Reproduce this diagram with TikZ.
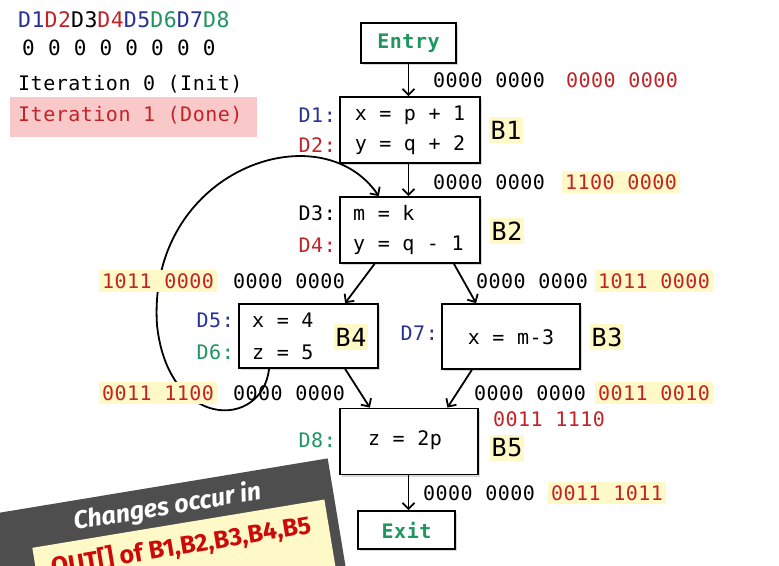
\documentclass[tikz,border=0pt]{standalone}
\usepackage{fontspec}
\setmainfont{DejaVu Sans}
\newfontfamily\mono{DejaVu Sans Mono}[LetterSpace=2.5]
\newfontfamily\bannerfont{Fira Sans}
\usetikzlibrary{arrows.meta,shadows,calc}
\definecolor{dblue}{RGB}{40,50,150}
\definecolor{dred}{RGB}{192,36,40}
\definecolor{dgreen}{RGB}{30,150,95}
\definecolor{hl}{RGB}{255,249,200}
\definecolor{pinkbg}{RGB}{249,200,200}
\definecolor{bannergray}{RGB}{78,78,78}
\definecolor{bannerred}{RGB}{205,10,10}
\tikzset{
  txt/.style={font=\mono\fontsize{20}{24}\selectfont, inner sep=0pt},
  hlt/.style={txt, fill=hl, inner sep=3pt, text=dred},
  blk/.style={draw, line width=1.8pt, fill=white, inner sep=0pt,
    drop shadow={opacity=0.3, shadow xshift=2pt, shadow yshift=-2pt}},
  blab/.style={font=\mono\fontsize{25}{30}\selectfont, fill=hl, inner xsep=2pt, inner ysep=4pt},
  arr/.style={line width=1.8pt, -{Straight Barb[length=6pt,width=12pt]}},
  bigtxt/.style={font=\mono\fontsize{20}{24}\selectfont\bfseries, text=dgreen}
}
\begin{document}
\begin{tikzpicture}[x=1pt,y=-1pt]
\useasboundingbox (0,0) rectangle (779,565);
\clip (0,0) rectangle (779,565);
\fill[white] (0,0) rectangle (779,565);

% legend
\node[txt, anchor=west, font=\mono\fontsize{21.5}{24}\selectfont] (hdr) at (18,20) {\textcolor{dblue}{D1}\textcolor{dred}{D2}D3\textcolor{dred}{D4}\textcolor{dblue}{D5}\textcolor{dgreen}{D6}\textcolor{dblue}{D7}\textcolor{dgreen}{D8}};
\node[txt, anchor=west, font=\mono\fontsize{21}{24}\selectfont] (zeros) at (22,48) {0 0 0 0 0 0 0 0};
\node[txt, anchor=west] (it0) at (18,84) {Iteration 0 (Init)};
\fill[pinkbg] (10,97) rectangle (257,137);
\node[txt, anchor=west, text=dred] (it1) at (18,115) {Iteration 1 (Done)};

% blocks
\node[blk, minimum width=95pt, minimum height=40pt, bigtxt] (entry) at (408.5,43) {Entry};
\node[blk, minimum width=140pt, minimum height=66pt] (B1) at (410,130) {};
\node[blk, minimum width=140pt, minimum height=66pt] (B2) at (410,230) {};
\node[blk, minimum width=139pt, minimum height=64pt] (B4) at (308.5,336) {};
\node[blk, minimum width=138pt, minimum height=65pt] (B3) at (511,336.5) {};
\node[blk, minimum width=138pt, minimum height=66pt] (B5) at (409,441.5) {};
\node[blk, minimum width=97pt, minimum height=38pt, bigtxt] (exit) at (406.5,530) {Exit};

% statements
\node[txt] (s1) at (410,115) {x = p + 1};
\node[txt] (s2) at (410,145) {y = q + 2};
\node[txt, anchor=west] (s3) at (353,213) {m = k};
\node[txt, anchor=west] (s4) at (353,245) {y = q - 1};
\node[txt, anchor=west] (s5) at (252,320) {x = 4};
\node[txt, anchor=west] (s6) at (252,352) {z = 5};
\node[txt] (s7) at (511,337) {x = m-3};
\node[txt] (s8) at (405,440) {z = 2p};

% definition labels
\node[txt, anchor=east, text=dblue] (d1) at (336,115) {D1:};
\node[txt, anchor=east, text=dred] (d2) at (336,145) {D2:};
\node[txt, anchor=east] (d3) at (336,213) {D3:};
\node[txt, anchor=east, text=dred] (d4) at (336,245) {D4:};
\node[txt, anchor=east, text=dblue] (d5) at (234,320) {D5:};
\node[txt, anchor=east, text=dgreen] (d6) at (234,352) {D6:};
\node[txt, anchor=east, text=dblue] (d7) at (438,333) {D7:};
\node[txt, anchor=east, text=dgreen] (d8) at (336,440) {D8:};

% connectors
\draw[arr] (entry.south) -- (entry.south |- B1.north);
\draw[arr] (B1.south -| entry.south) -- (entry.south |- B2.north);
\draw[arr] ($(B2.south west)!0.25!(B2.south east)$) -- ($(B4.north west)!0.76!(B4.north east)$);
\draw[arr] ($(B2.south west)!0.81!(B2.south east)$) -- ($(B3.north west)!0.25!(B3.north east)$);
\draw[arr] ($(B4.south west)!0.76!(B4.south east)$) -- ($(B5.north west)!0.22!(B5.north east)$);
\draw[arr] ($(B3.south west)!0.22!(B3.south east)$) -- ($(B5.north west)!0.775!(B5.north east)$);
\draw[arr] (B5.south -| entry.south) -- (entry.south |- exit.north);
\coordinate (loopL) at (157,325);
\draw[arr] ($(B4.south west)!0.22!(B4.south east)$) .. controls (262,430) and (168,430) .. (loopL)
  .. controls (147,170) and (320,110) .. ($(B2.north west)!0.28!(B2.north east)$);

% bit vectors
\node[txt] (e0a) at (489,80) {0000 0000};
\node[txt, text=dred] (e0b) at (622,80) {0000 0000};
\node[txt] (b1a) at (489,182) {0000 0000};
\node[hlt] (b1b) at (621,182) {1100 0000};
\node[hlt] (b4a) at (158,281) {1011 0000};
\node[txt] (b4b) at (289,281) {0000 0000};
\node[txt] (b3a) at (532,281) {0000 0000};
\node[hlt] (b3b) at (654,281) {1011 0000};
\node[hlt] (o4a) at (158,393) {0011 1100};
\node[txt] (o4b) at (289,393) {0000 0000};
\node[txt] (o3a) at (530,393) {0000 0000};
\node[hlt] (o3b) at (654,393) {0011 0010};
\node[txt, text=dred] (i5) at (549,419) {0011 1110};
\node[txt] (o5a) at (479,493) {0000 0000};
\node[hlt] (o5b) at (607,493) {0011 1011};

% block names
\node[blab] (n1) at (506,130) {B1};
\node[blab] (n2) at (507,231) {B2};
\node[blab] (n4) at (351,337) {B4};
\node[blab] (n3) at (607,337) {B3};
\node[blab] (n5) at (507,448) {B5};

% banner
\begin{scope}[shift={(165,535)}, rotate=9.4, transform shape]
  \fill[bannergray] (-200,-49) rectangle (173,90);
  \fill[hl] (-133,-9) rectangle (163,60);
  \node[font=\bannerfont\fontsize{25}{30}\selectfont\bfseries\itshape, text=white] (ban1) at (7,-27) {Changes occur in};
  \node[font=\bannerfont\fontsize{25}{30}\selectfont\bfseries, text=bannerred] (ban2) at (14,14) {OUT[] of B1,B2,B3,B4,B5};
\end{scope}
\end{tikzpicture}
\end{document}
